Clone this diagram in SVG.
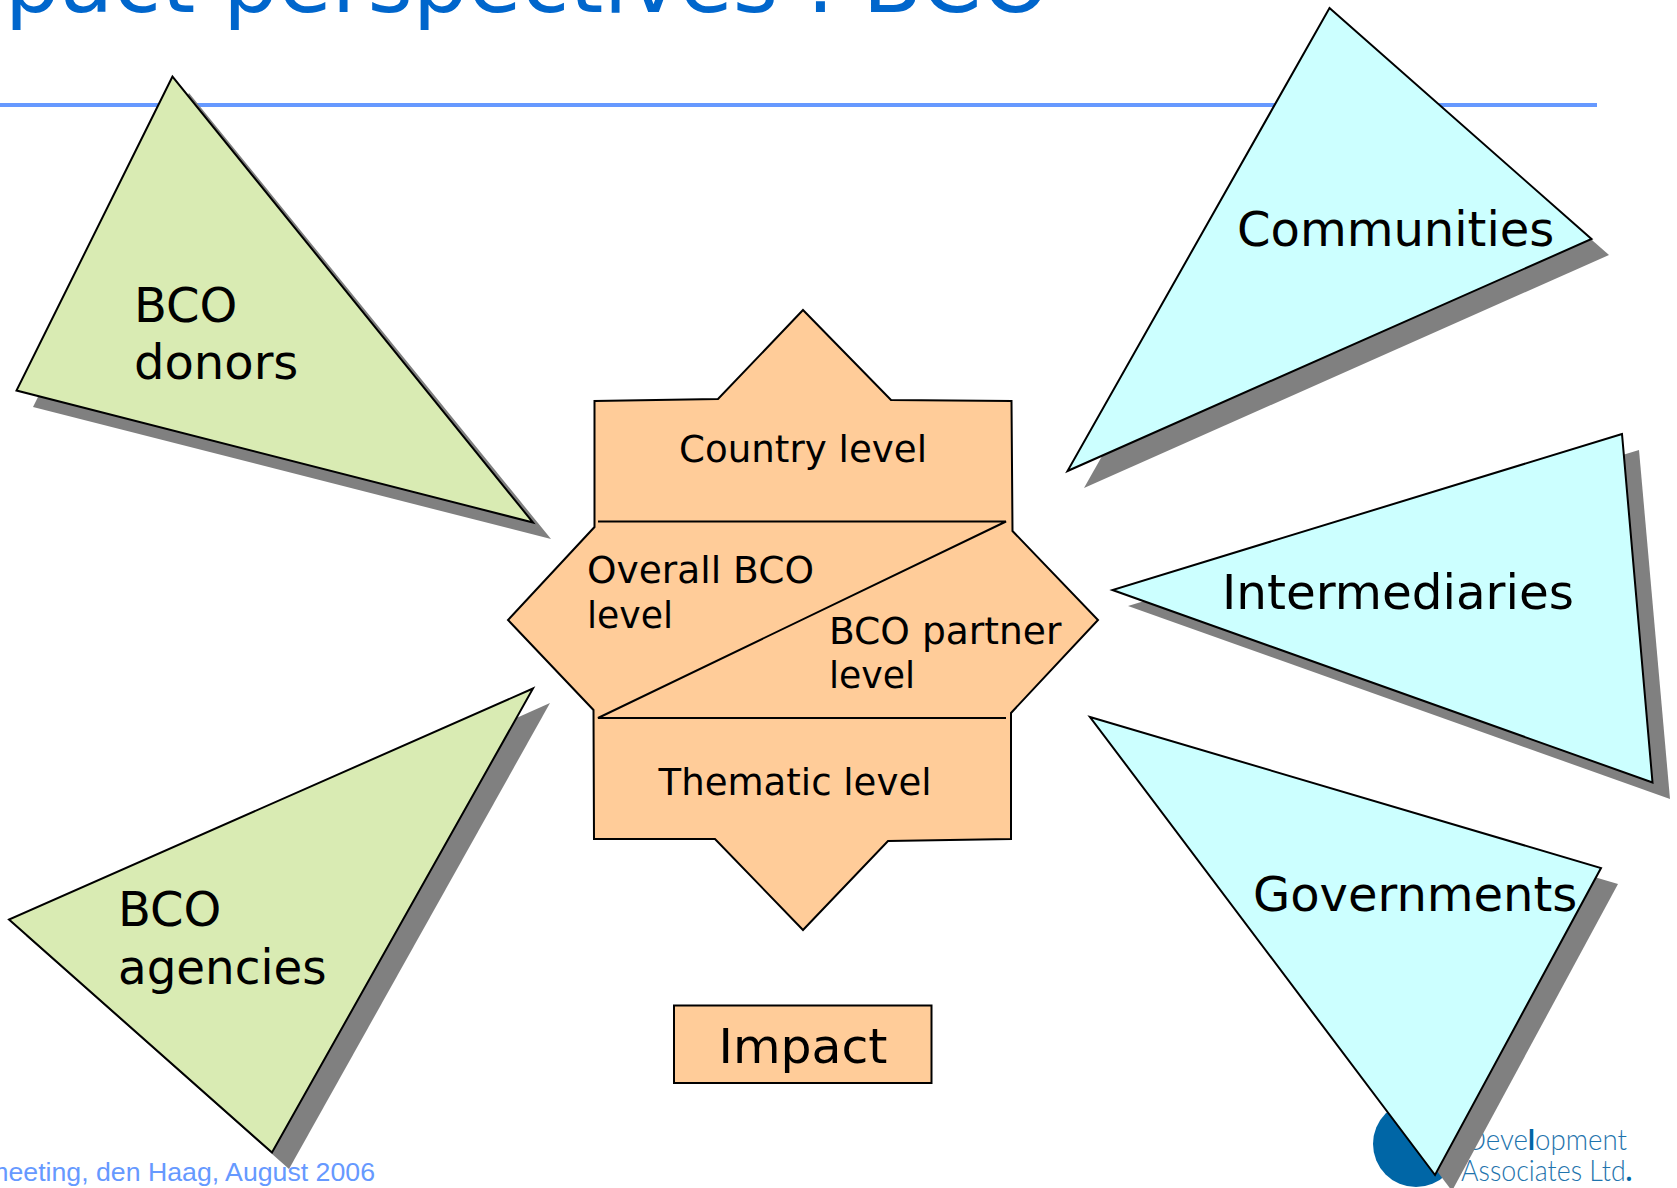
<svg xmlns="http://www.w3.org/2000/svg" width="1677" height="1188" viewBox="0 0 1677 1188">
<style>
.lbl{font-family:"DejaVu Sans",Verdana,sans-serif;fill:#000}
.big{font-size:48px}
.mid{font-size:37.6px}
.shadow{fill:#808080}
.tri{stroke:#000;stroke-width:2;stroke-linejoin:miter}
.green{fill:#d9ebb3}
.cyan{fill:#ccffff}
.peach{fill:#ffcc99;stroke:#000;stroke-width:2}
.logo{font-family:"Lato",sans-serif;font-weight:300;font-size:29px;fill:#1f74ad}
.dark{font-weight:700;fill:#0066a6}
</style>
<rect width="1677" height="1188" fill="#fff"/>
<g id="title">
<text x="1050" y="12" text-anchor="end" font-family="'DejaVu Sans',sans-serif" font-size="87" fill="#0066cc">Impact perspectives : BCO</text>
<rect x="0" y="103" width="1597" height="4" fill="#6699ff"/>
</g>
<g id="footer">
<text x="375" y="1180.500" text-anchor="end" font-family="'Liberation Sans',Arial,sans-serif" font-size="26.700" fill="#6699ff">meeting, den Haag, August 2006</text>
</g>
<g id="logo">
<circle cx="1416" cy="1144" r="43" fill="#0066a6"/>
<text class="logo" x="1465" y="1150" textLength="162" lengthAdjust="spacingAndGlyphs">Deve<tspan class="dark">l</tspan>opment</text>
<text class="logo" x="1461" y="1181" textLength="171" lengthAdjust="spacingAndGlyphs">Associates Ltd<tspan class="dark">.</tspan></text>
</g>
<g id="bco-donors">
<polygon class="shadow" points="189,93 33,407 551,539"/>
<polygon class="tri green" points="172.500,76.500 16.500,390.500 533,522.500"/>
<text class="lbl big" x="134" y="321.500">BCO</text>
<text class="lbl big" x="134" y="378.500">donors</text>
</g>
<g id="bco-agencies">
<polygon class="shadow" points="550,703 26,936 289,1169"/>
<polygon class="tri green" points="533,688.500 9,919.500 272,1152.500"/>
<text class="lbl big" x="118" y="925.500">BCO</text>
<text class="lbl big" x="118" y="983.500" textLength="208.500" lengthAdjust="spacingAndGlyphs">agencies</text>
</g>
<g id="communities">
<polygon class="shadow" points="1346,24 1609,255 1084,488"/>
<polygon class="tri cyan" points="1329.500,8 1591.500,239 1067.500,471"/>
<text class="lbl big" x="1237" y="245.500">Communities</text>
</g>
<g id="intermediaries">
<polygon class="shadow" points="1639,450 1128,606 1670,799"/>
<polygon class="tri cyan" points="1622,434 1112.500,590 1652.500,782.500"/>
<text class="lbl big" x="1222" y="608.500" textLength="352" lengthAdjust="spacingAndGlyphs">Intermediaries</text>
</g>
<g id="governments">
<polygon class="shadow" points="1107,733 1618,884 1452,1191"/>
<polygon class="tri cyan" points="1090,717 1601,868 1435,1175"/>
<text class="lbl big" x="1253" y="910.500">Governments</text>
</g>
<g id="impact-star">
<polygon class="peach" points="803,310 891,400 1011.500,401 1012.500,531 1098,620 1011,713 1011,839 888,841 803,930 715,839 594,839 593.500,710 508,620 594.500,527 594.500,401 718,399"/>
<path d="M598,521.500H1006L598,718H1006" fill="none" stroke="#000" stroke-width="2"/>
<text class="lbl mid" x="803" y="461.500" text-anchor="middle" textLength="248" lengthAdjust="spacingAndGlyphs">Country level</text>
<text class="lbl mid" x="587" y="582.500" textLength="227" lengthAdjust="spacingAndGlyphs">Overall BCO</text>
<text class="lbl mid" x="587" y="627.500" textLength="86" lengthAdjust="spacingAndGlyphs">level</text>
<text class="lbl mid" x="829" y="643.500">BCO partner</text>
<text class="lbl mid" x="829" y="687.500" textLength="86" lengthAdjust="spacingAndGlyphs">level</text>
<text class="lbl mid" x="795" y="794.500" text-anchor="middle" textLength="273" lengthAdjust="spacingAndGlyphs">Thematic level</text>
</g>
<g id="impact">
<rect class="peach" x="674" y="1005.500" width="257.500" height="77.500"/>
<text class="lbl big" x="803" y="1063" text-anchor="middle" textLength="169" lengthAdjust="spacingAndGlyphs">Impact</text>
</g>
</svg>
